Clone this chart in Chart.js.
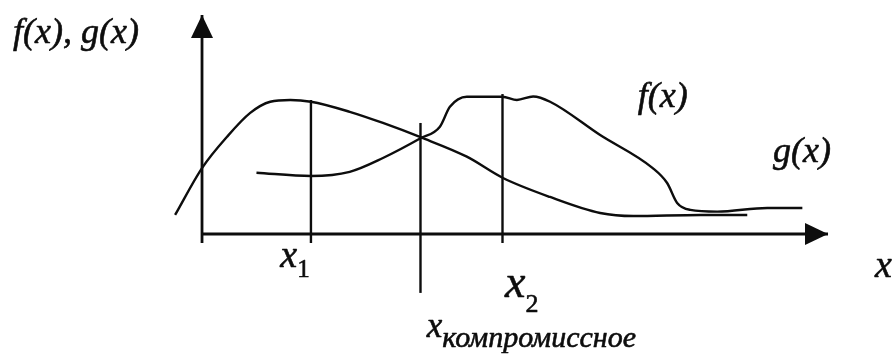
<!DOCTYPE html>
<html>
<head>
<meta charset="utf-8">
<script src="https://cdn.jsdelivr.net/npm/chart.js@4/dist/chart.umd.min.js"></script>
<style>
  html, body { margin: 0; padding: 0; background: #fff; overflow: hidden; }
  #wrap { width: 894px; height: 356px; position: relative; }
</style>
</head>
<body>
<div id="wrap"><canvas id="c" width="894" height="356"></canvas></div>
<script>
// Curve with the early maximum (rises, peaks near x1, falls to a low tail)
const curveAX = [-0.43, 0.00, 0.40, 0.77, 1.09, 1.41, 1.74, 2.36, 2.89, 3.49, 4.23, 4.80, 5.56, 6.36, 6.89, 7.96, 8.71];
const curveAY = [0.87, 3.01, 4.44, 5.53, 6.04, 6.12, 6.04, 5.58, 5.07, 4.42, 3.53, 2.57, 1.69, 0.96, 0.82, 0.87, 0.87];

// Curve with the plateau (low start, steep rise, plateau around x2, drop, flat tail)
const curveBX = [0.87, 1.74, 2.36, 2.89, 3.49, 3.80, 3.96, 4.23, 4.80, 5.03, 5.29, 5.56, 6.36, 7.20, 7.43, 7.59, 7.80, 8.23, 9.03, 9.59];
const curveBY = [2.80, 2.65, 2.84, 3.47, 4.37, 4.90, 5.81, 6.27, 6.27, 6.12, 6.28, 6.04, 4.52, 3.01, 2.33, 1.42, 1.10, 1.02, 1.19, 1.19];

// Marked abscissas and the extent of their vertical lines
const markX      = [1.74, 3.49, 4.80];
const markTop    = [6.12, 5.07, 6.39];
const markBottom = [-0.41, -2.69, -0.41];

// Axes
const axisXEnd = 10;
const axisYEnd = 10;
const axisYStart = -0.41;

const ink = '#0d0d0d';

function pts(xs, ys) { return xs.map((x, i) => ({ x, y: ys[i] })); }

const datasets = [
  { data: pts(curveAX, curveAY), borderWidth: 2.4, cubicInterpolationMode: 'monotone' },
  { data: pts(curveBX, curveBY), borderWidth: 2.4, cubicInterpolationMode: 'monotone' },
  { data: [{ x: 0, y: axisYStart }, { x: 0, y: axisYEnd }], borderWidth: 2.8, arrow: true },
  { data: [{ x: 0, y: 0 }, { x: axisXEnd, y: 0 }], borderWidth: 2.8, arrow: true }
];
markX.forEach((x, i) => {
  datasets.push({ data: [{ x, y: markBottom[i] }, { x, y: markTop[i] }], borderWidth: 2.4 });
});
datasets.forEach(d => {
  d.borderColor = ink;
  d.pointRadius = 0;
  d.fill = false;
  d.showLine = true;
});

// Text annotations: anchor in data units, then main text + optional subscript
const labels = [
  { x: -3.02, y: 8.72, text: 'f(x), g(x)', size: 36 },
  { x: 6.96, y: 5.80, text: 'f(x)', size: 36 },
  { x: 9.12, y: 3.29, text: 'g(x)', size: 36 },
  { x: 10.75, y: -1.96, text: 'x', size: 38 },
  { x: 1.25, y: -1.51, text: 'x', size: 38, sub: '1', subSize: 25, subItalic: false, subDrop: 10 },
  { x: 4.84, y: -2.88, text: 'x', size: 46, sub: '2', subSize: 26, subItalic: false, subDrop: 15 },
  { x: 3.59, y: -4.70, text: 'x', size: 35, sub: 'компромиссное', subSize: 30, subItalic: true, subDrop: 10 }
];

function fontSpec(italic, size) {
  return (italic ? 'italic ' : '') + size + "px 'Liberation Serif', monospace";
}

function inkText(ctx, s, x, y) {
  ctx.fillText(s, x, y);
  ctx.strokeText(s, x, y);
}

const decorations = {
  id: 'decorations',
  afterDatasetsDraw(chart) {
    const ctx = chart.ctx;
    const xs = chart.scales.x, ys = chart.scales.y;
    ctx.save();
    ctx.fillStyle = ink;
    ctx.strokeStyle = ink;
    ctx.lineWidth = 0.6;
    ctx.lineJoin = 'round';
    // arrowheads at the ends of the axes
    chart.data.datasets.forEach(ds => {
      if (!ds.arrow) return;
      const a = ds.data[0], b = ds.data[ds.data.length - 1];
      const x0 = xs.getPixelForValue(a.x), y0 = ys.getPixelForValue(a.y);
      const x1 = xs.getPixelForValue(b.x), y1 = ys.getPixelForValue(b.y);
      const ang = Math.atan2(y1 - y0, x1 - x0);
      const len = 23, half = 11;
      ctx.beginPath();
      ctx.moveTo(x1, y1);
      ctx.lineTo(x1 - len * Math.cos(ang) + half * Math.sin(ang), y1 - len * Math.sin(ang) - half * Math.cos(ang));
      ctx.lineTo(x1 - len * Math.cos(ang) - half * Math.sin(ang), y1 - len * Math.sin(ang) + half * Math.cos(ang));
      ctx.closePath();
      ctx.fill();
    });
    // labels
    ctx.textBaseline = 'alphabetic';
    ctx.textAlign = 'left';
    labels.forEach(l => {
      const px = xs.getPixelForValue(l.x), py = ys.getPixelForValue(l.y);
      ctx.font = fontSpec(true, l.size);
      inkText(ctx, l.text, px, py);
      if (l.sub) {
        const w = ctx.measureText(l.text).width;
        ctx.font = fontSpec(l.subItalic, l.subSize);
        inkText(ctx, l.sub, px + w, py + l.subDrop);
      }
    });
    ctx.restore();
  }
};

new Chart(document.getElementById('c'), {
  type: 'line',
  data: { datasets },
  options: {
    responsive: false,
    animation: false,
    events: [],
    layout: { padding: 0 },
    plugins: { legend: { display: false }, tooltip: { enabled: false }, title: { display: false } },
    elements: { line: { tension: 0.4, borderCapStyle: 'butt' } },
    scales: {
      x: { type: 'linear', min: -3.227, max: 11.054, display: false },
      y: { type: 'linear', min: -5.571, max: 10.685, display: false }
    }
  },
  plugins: [decorations]
});
</script>
</body>
</html>
